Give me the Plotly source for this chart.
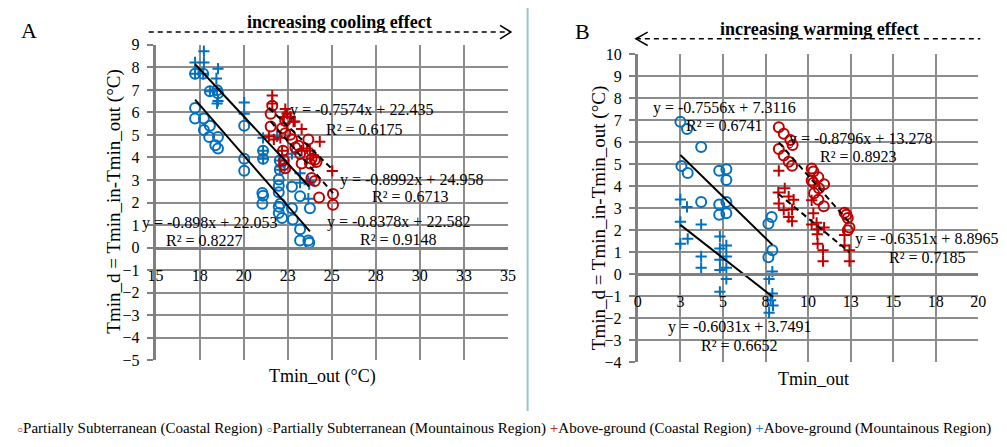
import plotly.graph_objects as go

# ---------------- Panel A (cooling) ----------------
a_sub_coast_x = [21.62, 21.53, 21.53, 22.18, 22.36, 22.46, 22.64, 22.74, 22.36, 22.23, 22.28, 22.28, 22.36,
                 22.93, 23.11, 23.20, 23.67, 23.29, 23.76, 23.85, 24.04, 24.13, 23.85, 24.04, 24.28, 25.07, 25.07]
a_sub_coast_y = [6.30, 5.94, 5.37, 5.30, 5.62, 5.73, 5.01, 4.81, 5.08, 4.30, 3.88, 3.66, 3.52,
                 4.44, 4.52, 4.16, 4.80, 3.73, 3.73, 3.94, 3.90, 3.80, 3.09, 2.95, 2.22, 2.38, 1.90]

a_sub_mount_x = [17.24, 17.70, 18.08, 18.49, 18.54, 17.24, 17.24, 17.74, 18.08, 17.74, 18.04, 18.54, 18.39,
                 18.54, 20.03, 20.03, 20.03, 21.10, 21.10, 21.06, 21.10, 21.06, 21.99, 22.05, 22.05, 21.99,
                 21.99, 22.08, 21.99, 21.99, 22.18, 22.74, 23.20, 22.74, 22.79, 23.20, 23.20, 23.67, 23.72, 23.76]
a_sub_mount_y = [7.72, 7.72, 6.94, 6.98, 6.85, 6.20, 5.73, 5.73, 5.41, 5.22, 4.91, 4.91, 4.54,
                 4.40, 5.41, 3.94, 3.41, 4.30, 3.94, 2.42, 2.30, 1.95, 3.02, 3.87, 3.45, 2.74,
                 2.45, 1.95, 1.81, 1.53, 1.31, 2.70, 2.28, 1.74, 1.24, 0.81, 0.31, 0.31, 0.21, 1.74]

a_above_coast_x = [21.62, 21.62, 22.36, 22.28, 22.64, 22.83, 22.90, 23.29, 21.71, 21.43, 22.08, 22.18,
                   23.29, 23.76, 23.60, 24.32, 23.95, 25.03, 22.46]
a_above_coast_y = [6.75, 6.40, 6.15, 5.80, 5.80, 5.59, 5.60, 5.26, 4.80, 4.94, 4.87, 4.30,
                   4.30, 4.30, 4.40, 4.70, 4.10, 3.40, 5.95]

a_above_mount_x = [17.74, 17.24, 17.74, 17.24, 17.70, 18.54, 18.45, 18.08, 18.49, 18.54, 18.49, 20.03, 20.03,
                   21.10, 21.10, 21.10, 21.90, 22.08, 22.05, 22.08, 22.74, 23.20, 23.20, 23.67, 23.72, 23.67]
a_above_mount_y = [8.72, 8.22, 8.22, 7.72, 7.72, 7.94, 7.51, 6.94, 6.98, 6.51, 6.40, 6.44, 5.94,
                   4.87, 4.30, 3.94, 4.94, 3.87, 3.45, 3.60, 4.16, 3.30, 2.88, 2.95, 2.81, 2.17]

# linear fits: slope, intercept, R²
a_fit_sub_coast = (-0.8992, 24.958, 0.6713)
a_fit_sub_mount = (-0.898, 22.053, 0.8227)
a_fit_above_coast = (-0.7574, 22.435, 0.6175)
a_fit_above_mount = (-0.8378, 22.582, 0.9148)

# ---------------- Panel B (warming) ----------------
b_sub_coast_x = [8.28, 8.57, 8.96, 9.09, 8.28, 8.57, 8.86, 9.06, 10.21, 10.31, 10.21, 10.60, 10.31, 10.94,
                 10.64, 10.35, 10.60, 10.92, 12.14, 12.33, 12.43, 12.33, 12.25]
b_sub_coast_y = [6.68, 6.39, 6.10, 5.88, 5.69, 5.40, 5.11, 4.93, 4.81, 4.67, 4.26, 4.41, 4.16, 4.09,
                 3.91, 3.68, 3.39, 3.09, 2.80, 2.56, 2.12, 2.00, 2.70]

b_sub_mount_x = [2.50, 2.89, 3.72, 2.56, 2.93, 3.72, 4.78, 5.20, 5.20, 4.78, 5.20, 4.78, 5.20,
                 7.86, 7.67, 7.90, 7.67]
b_sub_mount_y = [6.93, 6.60, 5.79, 4.92, 4.60, 3.28, 4.70, 4.77, 4.28, 3.17, 3.28, 2.70, 2.77,
                 2.60, 2.29, 1.09, 0.77]

b_above_coast_x = [8.28, 8.63, 8.25, 8.86, 9.15, 8.28, 8.57, 9.06, 8.86, 9.06, 10.21, 10.31, 10.21, 10.50,
                   10.60, 10.94, 10.54, 10.56, 10.88, 10.88, 12.14, 12.14, 12.43, 12.43]
b_above_coast_y = [4.70, 3.91, 3.72, 3.53, 3.39, 3.21, 2.92, 2.95, 2.60, 2.41, 3.36, 2.77, 2.26, 2.34,
                   2.04, 2.12, 1.82, 1.39, 1.09, 0.59, 1.78, 1.31, 1.09, 0.59]

b_above_mount_x = [2.50, 2.89, 2.50, 3.72, 2.93, 2.50, 3.72, 3.72, 4.82, 4.82, 4.82, 4.82, 5.20, 5.20,
                   5.20, 5.20, 4.82, 7.90, 7.71, 7.90, 7.80, 7.94, 7.71]
b_above_mount_y = [3.40, 3.06, 2.38, 2.26, 1.61, 1.39, 0.81, 0.29, 1.71, 1.17, 0.66, 0.19, 1.31, 0.81,
                   0.29, -0.22, -0.80, 0.12, -0.22, -0.88, -1.19, -1.43, -1.75]

b_fit_sub_coast = (-0.8796, 13.278, 0.8923)
b_fit_sub_mount = (-0.7556, 7.3116, 0.6741)
b_fit_above_coast = (-0.6351, 8.8965, 0.7185)
b_fit_above_mount = (-0.6031, 3.7491, 0.6652)

# axis ticks
a_tickvals = [15, 17.5, 20, 22.5, 25, 27.5, 30, 32.5, 35]
a_ticktext = ["15", "18", "20", "23", "25", "28", "30", "33", "35"]
b_tickvals = [0, 2.5, 5, 7.5, 10, 12.5, 15, 17.5, 20]
b_ticktext = ["0", "3", "5", "8", "10", "13", "15", "18", "20"]

series_names = ["Partially Subterranean (Coastal Region)",
                "Partially Subterranean (Mountainous Region)",
                "Above-ground (Coastal Region)",
                "Above-ground (Mountainous Region)"]

RED = "#C00000"
BLUE = "#0070C0"
GRID = "#8c8c8c"
AXIS = "#808080"
FONT = "Liberation Serif"

W, H = 1007, 447


def px_x(p):
    return p / W


def px_y(p):
    return 1 - p / H


fig = go.Figure()


def add_series(x, y, color, symbol, xa, ya):
    circle = symbol == "circle-open"
    fig.add_trace(go.Scatter(
        x=x, y=y, mode="markers", xaxis=xa, yaxis=ya, showlegend=False,
        marker=dict(symbol=symbol, size=10 if circle else 8,
                    color=color, line=dict(color=color, width=2)),
    ))


def add_fit(x, fit, dashed, xa, ya):
    slope, intercept, _ = fit
    xs = [min(x), max(x)]
    ys = [slope * v + intercept for v in xs]
    fig.add_trace(go.Scatter(
        x=xs, y=ys, mode="lines", xaxis=xa, yaxis=ya, showlegend=False,
        line=dict(color="black", width=2, dash="6px,4px" if dashed else "solid"),
    ))


def eq_text(fit):
    slope, intercept, _ = fit
    return f"y = {slope}x + {intercept}"


def r2_text(fit):
    return f"R² = {fit[2]}"


# panel A marks
add_series(a_sub_mount_x, a_sub_mount_y, BLUE, "circle-open", "x", "y")
add_series(a_above_mount_x, a_above_mount_y, BLUE, "cross-thin-open", "x", "y")
add_series(a_sub_coast_x, a_sub_coast_y, RED, "circle-open", "x", "y")
add_series(a_above_coast_x, a_above_coast_y, RED, "cross-thin-open", "x", "y")
add_fit(a_sub_mount_x, a_fit_sub_mount, False, "x", "y")
add_fit(a_above_mount_x, a_fit_above_mount, False, "x", "y")
add_fit(a_sub_coast_x, a_fit_sub_coast, True, "x", "y")
add_fit(a_above_coast_x, a_fit_above_coast, True, "x", "y")

# panel B marks
add_series(b_sub_mount_x, b_sub_mount_y, BLUE, "circle-open", "x2", "y2")
add_series(b_above_mount_x, b_above_mount_y, BLUE, "cross-thin-open", "x2", "y2")
add_series(b_sub_coast_x, b_sub_coast_y, RED, "circle-open", "x2", "y2")
add_series(b_above_coast_x, b_above_coast_y, RED, "cross-thin-open", "x2", "y2")
add_fit(b_sub_mount_x, b_fit_sub_mount, False, "x2", "y2")
add_fit(b_above_mount_x, b_fit_above_mount, False, "x2", "y2")
add_fit(b_sub_coast_x, b_fit_sub_coast, True, "x2", "y2")
add_fit(b_above_coast_x, b_fit_above_coast, True, "x2", "y2")

tickfont = dict(family=FONT, size=16, color="black")


def xaxis_cfg(domain, rng, vals, text, pos):
    return dict(domain=domain, range=rng, tickvals=vals, ticktext=text, anchor="free", position=pos,
                showgrid=True, gridcolor=GRID, gridwidth=2, zeroline=False,
                showline=True, linecolor=AXIS, linewidth=3, ticks="", tickfont=tickfont,
                ticklabelstandoff=12, fixedrange=True)


def yaxis_cfg(domain, rng, anchor):
    return dict(domain=domain, range=rng, dtick=1, anchor=anchor,
                showgrid=True, gridcolor=GRID, gridwidth=2, zeroline=False,
                showline=True, linecolor=AXIS, linewidth=3, ticks="outside", ticklen=6,
                tickwidth=2, tickcolor=AXIS, tickfont=tickfont, ticklabelstandoff=4, fixedrange=True)


fig.update_layout(
    width=W, height=H, margin=dict(l=0, r=0, t=0, b=0),
    paper_bgcolor="white", plot_bgcolor="white",
    font=dict(family=FONT, color="black"),
    xaxis=xaxis_cfg([px_x(150), px_x(508)], [15, 35], a_tickvals, a_ticktext, px_y(249)),
    yaxis=yaxis_cfg([px_y(366.1), px_y(38.3)], [-5, 9], "x"),
    xaxis2=xaxis_cfg([px_x(640), px_x(986)], [0, 20], b_tickvals, b_ticktext, px_y(276.7)),
    yaxis2=yaxis_cfg([px_y(368.1), px_y(48.2)], [-4, 10], "x2"),
)

ann = []
labfont = dict(family=FONT, size=16, color="black")


def label(text, x, y, xr, yr):
    ann.append(dict(text=text, x=x, y=y, xref=xr, yref=yr, showarrow=False, font=labfont,
                    xanchor="center", yanchor="middle"))


# regression labels, panel A
label(eq_text(a_fit_above_coast), 26.69, 6.11, "x", "y")
label(r2_text(a_fit_above_coast), 26.86, 5.26, "x", "y")
label(eq_text(a_fit_sub_coast), 29.51, 3.01, "x", "y")
label(r2_text(a_fit_sub_coast), 29.49, 2.26, "x", "y")
label(eq_text(a_fit_above_mount), 28.76, 1.15, "x", "y")
label(r2_text(a_fit_above_mount), 28.79, 0.38, "x", "y")
label(eq_text(a_fit_sub_mount), 18.08, 1.07, "x", "y")
label(r2_text(a_fit_sub_mount), 17.8, 0.30, "x", "y")

# regression labels, panel B
label(eq_text(b_fit_sub_mount), 5.09, 7.58, "x2", "y2")
label(r2_text(b_fit_sub_mount), 5.09, 6.78, "x2", "y2")
label(eq_text(b_fit_sub_coast), 13.06, 6.16, "x2", "y2")
label(r2_text(b_fit_sub_coast), 12.98, 5.37, "x2", "y2")
label(eq_text(b_fit_above_coast), 16.94, 1.61, "x2", "y2")
label(r2_text(b_fit_above_coast), 16.99, 0.75, "x2", "y2")
label(eq_text(b_fit_above_mount), 5.95, -2.42, "x2", "y2")
label(r2_text(b_fit_above_mount), 5.98, -3.25, "x2", "y2")


def paper_text(text, x, y, size, angle=0, bold=False):
    ann.append(dict(text=f"<b>{text}</b>" if bold else text, x=px_x(x), y=px_y(y), xref="paper",
                    yref="paper", showarrow=False, textangle=angle,
                    font=dict(family=FONT, size=size, color="black"),
                    xanchor="center", yanchor="middle"))


ytitle = "Tmin_d = Tmin_in-Tmin_out (°C)"
paper_text(ytitle, 108, 201, 19, angle=-90)
paper_text(ytitle, 600, 218, 19, angle=-90)
paper_text("Tmin_out (°C)", 320, 383, 18)
paper_text("Tmin_out", 818, 386, 18)
paper_text("A", 21, 23, 22)
paper_text("B", 584, 24, 22)
paper_text("increasing cooling effect", 337, 15, 18, bold=True)
paper_text("increasing warming effect", 825, 22, 18, bold=True)

# legend row
legend_html = (
    f'<span style="color:{RED};font-size:10px">○</span>{series_names[0]} '
    f'<span style="color:{BLUE};font-size:10px">○</span>{series_names[1]} '
    f'<span style="color:{RED}">+</span>{series_names[2]} '
    f'<span style="color:{BLUE}">+</span>{series_names[3]}'
)
ann.append(dict(text=legend_html, x=px_x(504), y=px_y(437), xref="paper", yref="paper",
                showarrow=False, font=dict(family=FONT, size=15, color="black"),
                xanchor="center", yanchor="middle"))

fig.update_layout(annotations=ann)

# header arrows and panel separator
shapes = [
    dict(type="line", xref="paper", yref="paper", x0=px_x(143), x1=px_x(510), y0=px_y(25), y1=px_y(25),
         line=dict(color="black", width=1.5, dash="5px,4px")),
    dict(type="path", xref="paper", yref="paper",
         path=f"M {px_x(500)},{px_y(18)} L {px_x(511)},{px_y(25)} L {px_x(500)},{px_y(32)}",
         line=dict(color="black", width=1.5)),
    dict(type="line", xref="paper", yref="paper", x0=px_x(638), x1=px_x(988), y0=px_y(32), y1=px_y(32),
         line=dict(color="black", width=1.5, dash="5px,4px")),
    dict(type="path", xref="paper", yref="paper",
         path=f"M {px_x(650)},{px_y(25)} L {px_x(638)},{px_y(32)} L {px_x(650)},{px_y(39)}",
         line=dict(color="black", width=1.5)),
    dict(type="line", xref="paper", yref="paper", x0=px_x(528), x1=px_x(528), y0=px_y(0), y1=px_y(419),
         line=dict(color="#96C3CE", width=2)),
]
fig.update_layout(shapes=shapes)

fig.write_html("out.html")
